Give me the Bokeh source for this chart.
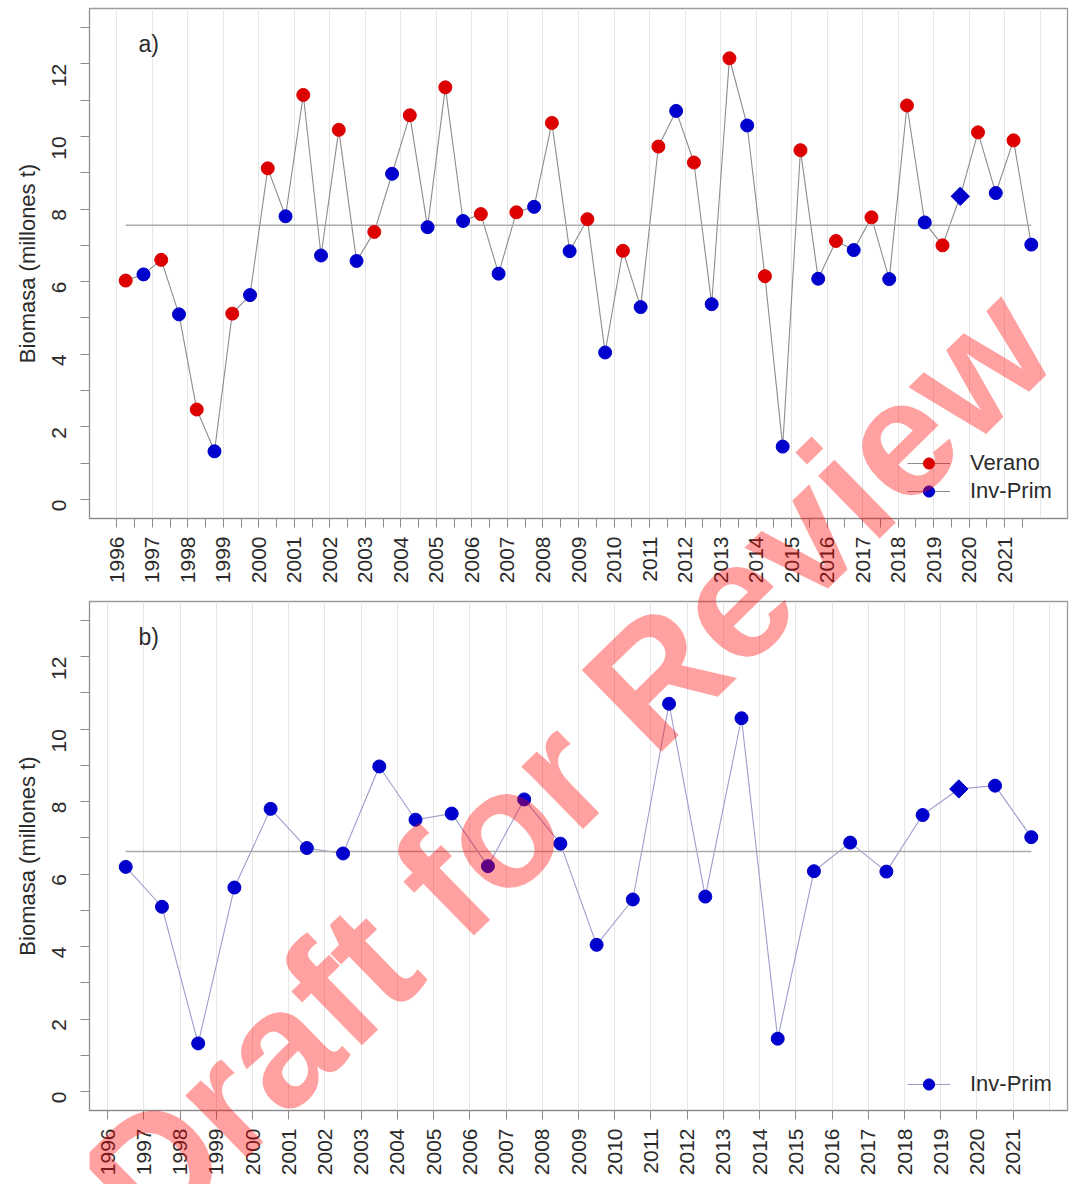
import math
import numpy as np
from bokeh.plotting import figure
from bokeh.layouts import column
from bokeh.models import (Range1d, FixedTicker, Label, Legend, LegendItem,
                          ColumnDataSource)
from bokeh.embed import file_html
from bokeh.resources import INLINE

# ---- data: biomass (millones t) by season --------------------------------
years = list(range(1996, 2022))
verano = [6.03, 6.60, 2.48, 5.12, 9.12, 11.14, 10.18, 7.37, 10.58, 11.35,
          7.86, 7.91, 10.37, 7.72, 6.85, 9.72, 9.28, 12.15, 6.15, 9.62,
          7.12, 7.77, 10.85, 7.00, 10.11, 9.89]
inv_prim = [6.20, 5.10, 1.33, 5.63, 7.80, 6.72, 6.57, 8.97, 7.50, 7.67,
            6.22, 8.06, 6.84, 4.05, 5.30, 10.70, 5.38, 10.30, 1.46, 6.08,
            6.87, 6.07, 7.63, 8.35, 8.44, 7.02]
inv_prim_destacado = [2019]          # survey drawn with a diamond marker
y_ticks = [0, 2, 4, 6, 8, 10, 12]
y_minor = [1, 3, 5, 7, 9, 11, 13]

FONT = "Liberation Sans"
RED = "#dc0000"
BLUE = "#0000cc"
TXT = "#2b2b2b"
PAGE_W, PAGE_H = 1091, 1184

# page geometry: figure heights and frame boxes (left, top, right, bottom)
FIG_A_H, FIG_B_H = 598, 586
BOX_A = (89, 8, 1067, 518)
BOX_B = (89, 601, 1067, 1110)
Y_RANGE = (-0.52, 13.52)
X_RANGE_A = (1995.23, 2022.77)
X_RANGE_B = (1995.5, 2022.5)


def base_fig(height, fig_top, box, xr):
    left, top, right, bottom = box
    p = figure(width=PAGE_W, height=height,
               x_range=Range1d(*xr), y_range=Range1d(*Y_RANGE),
               output_backend="svg", toolbar_location=None,
               min_border_left=left, min_border_right=PAGE_W - right,
               min_border_top=top - fig_top,
               min_border_bottom=fig_top + height - bottom)
    p.background_fill_color = "white"
    p.border_fill_color = "white"
    p.outline_line_color = "#9a9a9a"
    p.outline_line_width = 1.3
    p.ygrid.visible = False
    p.xgrid.grid_line_color = "#e6e6e6"
    p.xgrid.grid_line_width = 1

    ya = p.yaxis[0]
    ya.ticker = FixedTicker(ticks=y_ticks, minor_ticks=y_minor)
    ya.axis_label = "Biomasa (millones t)"
    ya.axis_label_text_font = FONT
    ya.axis_label_text_font_size = "22px"
    ya.axis_label_text_font_style = "normal"
    ya.axis_label_text_color = TXT
    ya.axis_label_standoff = 3
    ya.major_label_orientation = math.pi / 2

    for ax in (p.xaxis[0], ya):
        ax.axis_line_color = "#8a8a8a"
        ax.major_tick_line_color = "#8a8a8a"
        ax.minor_tick_line_color = "#8a8a8a"
        ax.major_tick_in = 0
        ax.minor_tick_in = 0
        ax.major_tick_out = 9
        ax.minor_tick_out = 9
        ax.major_label_text_font = FONT
        ax.major_label_text_font_size = "21px"
        ax.major_label_text_color = TXT
    ya.major_label_standoff = 21
    p.xaxis[0].major_label_standoff = 9
    p.xaxis[0].major_label_orientation = math.pi / 2
    return p


def panel_tag(p, text, box):
    # "a)" / "b)" tag near the upper-left corner of the frame
    frame_h = box[3] - box[1]
    p.add_layout(Label(x=49, y=frame_h - 35, x_units="screen", y_units="screen",
                       text=text, text_font=FONT, text_font_size="23px",
                       text_color=TXT, text_align="left", text_baseline="middle"))


def inv_source(xs):
    mk = ["square" if y in inv_prim_destacado else "circle" for y in years]
    ang = [math.pi / 4 if y in inv_prim_destacado else 0 for y in years]
    sz = [13 if y in inv_prim_destacado else 13 for y in years]
    return ColumnDataSource(dict(x=xs, y=inv_prim, m=mk, a=ang, s=sz))


# ---- panel a: both seasons ------------------------------------------------
xa_ver = [y + 0.25 for y in years]
xa_inv = [y + 0.75 for y in years]
xa_all, ya_all = [], []
for i in range(len(years)):
    xa_all += [xa_ver[i], xa_inv[i]]
    ya_all += [verano[i], inv_prim[i]]

pa = base_fig(FIG_A_H, 0, BOX_A, X_RANGE_A)
pa.xaxis[0].ticker = FixedTicker(ticks=years,
                                 minor_ticks=[y + 0.5 for y in years])
pa.xgrid.ticker = FixedTicker(ticks=years + [2022])

line_a = pa.line(xa_all, ya_all, line_color="#8c8c8c", line_width=1.1)
mean_a = float(np.mean(ya_all))
pa.line([xa_all[0], xa_all[-1]], [mean_a, mean_a],
        line_color="#ababab", line_width=1.5)

ver_r = pa.scatter(xa_ver, verano, marker="circle", size=13,
                   fill_color=RED, line_color=RED)
inv_a = pa.scatter("x", "y", marker="m", angle="a", size="s",
                   source=inv_source(xa_inv), fill_color=BLUE, line_color=BLUE)

leg_a = Legend(items=[LegendItem(label="Verano", renderers=[line_a, ver_r]),
                      LegendItem(label="Inv-Prim", renderers=[line_a, inv_a])],
               location=(818, 13))
panel_tag(pa, "a)", BOX_A)

# ---- panel b: Inv-Prim only -----------------------------------------------
xb = [y + 0.5 for y in years]
pb = base_fig(FIG_B_H, FIG_A_H, BOX_B, X_RANGE_B)
pb.xaxis[0].ticker = FixedTicker(ticks=years)
pb.xgrid.ticker = FixedTicker(ticks=years + [2022])

line_b = pb.line(xb, inv_prim, line_color="#9d9dcc", line_width=1.1)
mean_b = float(np.mean(inv_prim))
pb.line([xb[0], xb[-1]], [mean_b, mean_b], line_color="#ababab", line_width=1.5)
inv_b = pb.scatter("x", "y", marker="m", angle="a", size="s",
                   source=inv_source(xb), fill_color=BLUE, line_color=BLUE)

leg_b = Legend(items=[LegendItem(label="Inv-Prim", renderers=[line_b, inv_b])],
               location=(818, 12))
panel_tag(pb, "b)", BOX_B)

for p, leg in ((pa, leg_a), (pb, leg_b)):
    leg.label_text_font = FONT
    leg.label_text_font_size = "22px"
    leg.label_text_color = TXT
    leg.label_standoff = 20
    leg.glyph_width = 43
    leg.glyph_height = 28
    leg.label_height = 28
    leg.spacing = 0
    leg.padding = 0
    leg.margin = 0
    leg.border_line_alpha = 0
    leg.background_fill_alpha = 0
    p.add_layout(leg)

# ---- review stamp: a transparent page-sized layer on top of both panels ----
STAMP_X, STAMP_Y = 478, 763      # stamp centre inside the layer
stamp = figure(width=PAGE_W, height=PAGE_H, x_range=Range1d(0, PAGE_W),
               y_range=Range1d(0, PAGE_H), output_backend="svg",
               toolbar_location=None, x_axis_location=None,
               y_axis_location=None, min_border=0,
               styles={"position": "absolute", "left": "0px", "top": "0px",
                       "z-index": "5", "pointer-events": "none"})
stamp.grid.visible = False
stamp.outline_line_color = None
stamp.background_fill_alpha = 0
stamp.border_fill_alpha = 0
stamp.add_layout(Label(x=STAMP_X, y=PAGE_H - STAMP_Y,
                       x_units="screen", y_units="screen",
                       text="Draft for Review", angle=0.775,
                       text_align="center", text_baseline="middle",
                       text_font=FONT, text_font_size="166px",
                       text_font_style="bold",
                       text_color="red", text_alpha=0.37))

layout = column(pa, pb, stamp, spacing=0)
open("out.html", "w").write(file_html(layout, INLINE))
